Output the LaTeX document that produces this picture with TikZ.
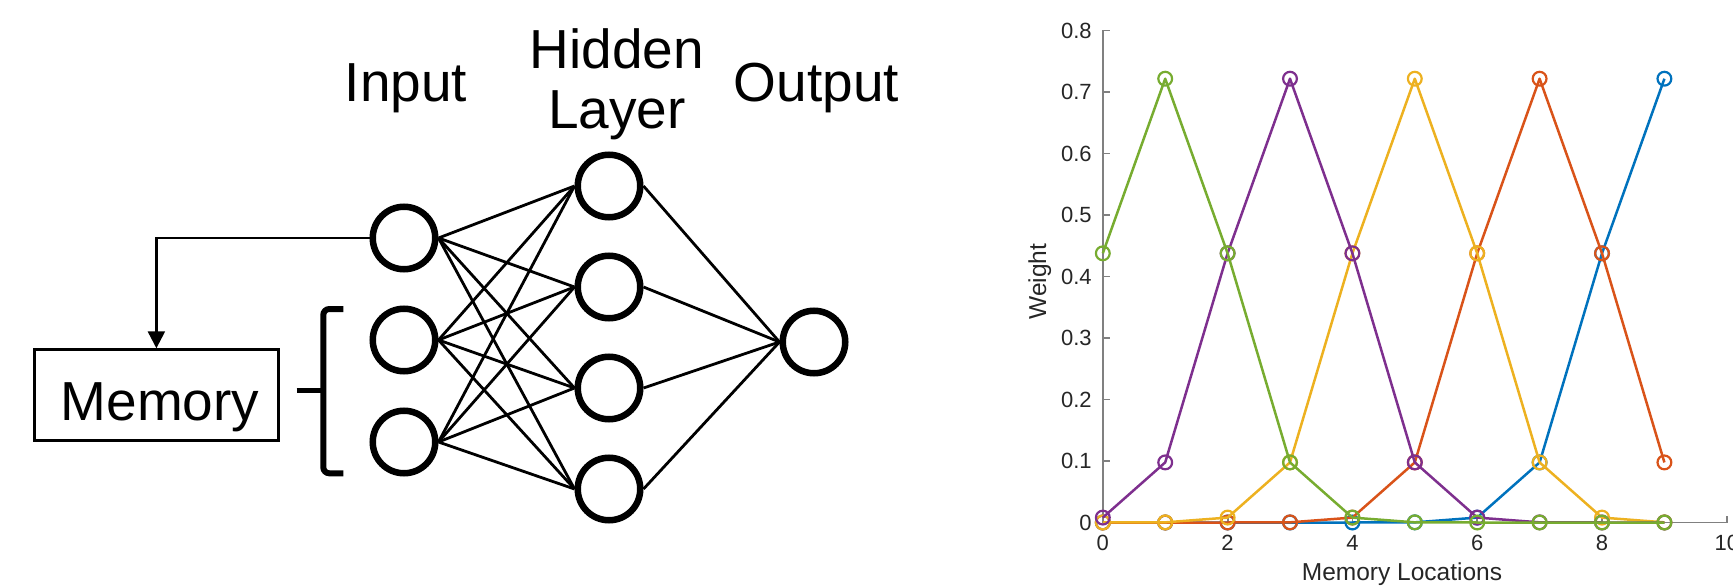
\documentclass[tikz,border=0pt]{standalone}
\usepackage{fontspec}
\setmainfont{Liberation Sans}
\usetikzlibrary{arrows.meta}
\definecolor{mblue}{RGB}{0,114,189}
\definecolor{morange}{RGB}{217,83,25}
\definecolor{myellow}{RGB}{237,177,32}
\definecolor{mpurple}{RGB}{126,47,142}
\definecolor{mgreen}{RGB}{119,172,48}
\definecolor{axgray}{RGB}{128,128,128}
\definecolor{tickgray}{RGB}{38,38,38}
% #1 colour, #2 value at x=0, #3 remaining x/y pairs
\newcommand\mlseries[3]{%
  \draw[serline=#1] (0,#2) foreach \xx/\yy in {#3} {-- (\xx,\yy)};
  \foreach \xx/\yy in {0/#2, #3} {\draw[sermark=#1] (\xx,\yy) circle (6.9pt);}
}
\begin{document}
\begin{tikzpicture}[x=1pt,y=-1pt,
  neuron/.style={circle, draw, line width=6.5pt, minimum size=62.5pt, inner sep=0pt},
  conn/.style={line width=2.8pt},
  big/.style={font=\fontsize{55}{60}\selectfont, inner sep=0pt},
  memorybox/.style={draw, line width=2.8pt, minimum width=244.5pt, minimum height=90.6pt, inner sep=0pt},
  axisline/.style={draw=axgray, line width=1.8pt},
  ticklab/.style={font=\fontsize{22}{24}\selectfont, text=tickgray, inner sep=0pt},
  axlab/.style={font=\fontsize{24.5}{26}\selectfont, text=tickgray, inner sep=0pt},
  serline/.style={draw=#1, line width=2.5pt, line join=round},
  sermark/.style={draw=#1, line width=2.2pt}
]
\useasboundingbox (0,0) rectangle (1733,588);
\clip (0,0) rectangle (1733,588);

% ---------- Left: network ----------
\node[big, anchor=base] (tin) at (406,101.7) {Input};
\node[big, anchor=base] (thid) at (617,68.3) {Hidden};
\node[big, anchor=base] (tlay) at (617,128.3) {Layer};
\node[big, anchor=base] (tout) at (816.5,101.7) {Output};

\node[neuron] (i1) at (404,238) {};
\node[neuron] (i2) at (404,340) {};
\node[neuron] (i3) at (404,442) {};

\node[neuron] (h1) at (609,186) {};
\node[neuron] (h2) at (609,287) {};
\node[neuron] (h3) at (609,388) {};
\node[neuron] (h4) at (609,489) {};

\node[neuron] (o) at (814,342) {};

\foreach \i in {1,2,3}{
  \foreach \h in {1,2,3,4}{
    \draw[conn] (i\i.east) -- (h\h.west);
  }
}
\foreach \h in {1,2,3,4}{
  \draw[conn] (h\h.east) -- (o.west);
}

\node[memorybox] (mem) at (156.4,395) {};
\node[big, anchor=base] (memtext) at (160,420) {Memory};

\draw[line width=2.4pt, -{Triangle[length=17pt,width=17pt]}] (i1.west) -| (mem.north);

% bracket
\coordinate (bt) at (343.3,309);
\coordinate (bb) at (343.3,473.3);
\coordinate (bm) at (296.7,390.7);
\draw[line width=6pt, rounded corners=6pt] (bt) -- (323.3,309) -- (323.3,473.3) -- (bb);
\draw[line width=5.5pt] (bm) -- (323.3,390.7);

% ---------- Right: plot ----------
\begin{scope}[shift={(1102.8,522.5)}, x=62.4pt, y=615pt]
  \draw[axisline] (0,0.8) -- (0,0) -- (10,0);
  \foreach \v in {0,0.1,0.2,0.3,0.4,0.5,0.6,0.7,0.8}{
    \draw[axisline] (0,\v) -- ++(7pt,0);
    \node[ticklab, anchor=east, xshift=-11pt] at (0,\v) {\v};
  }
  \foreach \u in {0,2,4,6,8,10}{
    \draw[axisline] (\u,0) -- ++(0,7pt);
    \node[ticklab, yshift=-20.5pt] at (\u,0) {\u};
  }
  \mlseries{mblue}{0}{1/0, 2/0, 3/0, 4/0, 5/0.00024, 6/0.0080, 7/0.0977, 8/0.4377, 9/0.7216}
  \mlseries{morange}{0}{1/0, 2/0, 3/0.00024, 4/0.0080, 5/0.0977, 6/0.4377, 7/0.7216, 8/0.4377, 9/0.0977}
  \mlseries{myellow}{0}{1/0.00024, 2/0.0080, 3/0.0977, 4/0.4377, 5/0.7216, 6/0.4377, 7/0.0977, 8/0.0080, 9/0.00024}
  \mlseries{mpurple}{0.0080}{1/0.0977, 2/0.4377, 3/0.7216, 4/0.4377, 5/0.0977, 6/0.0080, 7/0.00024, 8/0, 9/0}
  \mlseries{mgreen}{0.4377}{1/0.7216, 2/0.4377, 3/0.0977, 4/0.0080, 5/0.00024, 6/0, 7/0, 8/0, 9/0}
\end{scope}

\node[axlab, anchor=base] (xlab) at (1402,580) {Memory Locations};
\node[axlab, anchor=base, rotate=90] (ylab) at (1046,281.5) {Weight};
\end{tikzpicture}
\end{document}
